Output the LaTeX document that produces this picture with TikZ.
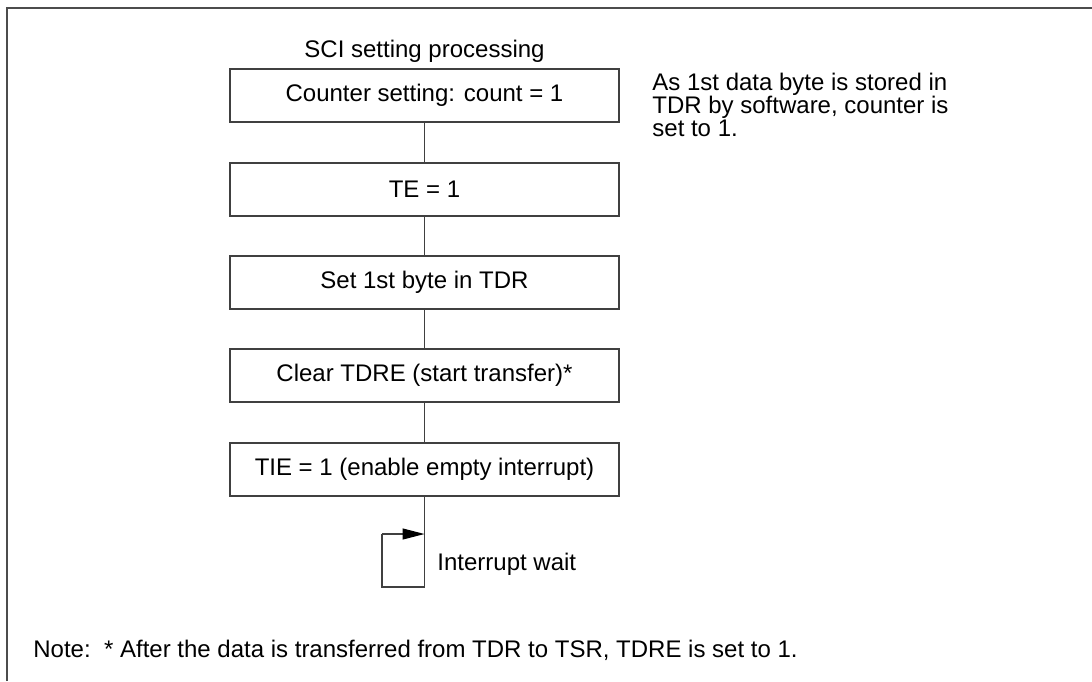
\documentclass[tikz,border=0pt]{standalone}
\usepackage{fontspec}
\setmainfont{Liberation Sans}
\usetikzlibrary{arrows.meta}
\tikzset{
  stepbox/.style={draw=black!75,line width=.6pt,minimum width=194.5pt,minimum height=26.5pt,inner sep=0pt,font=\fontsize{12}{14}\selectfont},
  flowline/.style={draw=black!75,line width=.6pt},
  plaintext/.style={inner sep=0pt,font=\fontsize{12}{11.5}\selectfont}
}
\begin{document}
\begin{tikzpicture}[x=.5pt,y=-.5pt]
\useasboundingbox(0,0)rectangle(1092,681);
%frame
\draw[black!70,line width=.75pt](7,681)--(7,8)--(1092,8);
%title
\node[plaintext,anchor=base](title)at(424.5,57){SCI setting processing};
%boxes
\node[stepbox](count)at(424.5,95.5){Counter setting: count = 1};
\node[stepbox](te)at(424.5,189.5){TE = 1};
\node[stepbox](tdr)at(424.5,282.5){Set 1st byte in TDR};
\node[stepbox](tdre)at(424.5,375.5){Clear TDRE (start transfer)*};
\node[stepbox](tie)at(424.5,469.5){TIE = 1 (enable empty interrupt)};
\draw[flowline](count)--(te);
\draw[flowline](te)--(tdr);
\draw[flowline](tdr)--(tdre);
\draw[flowline](tdre)--(tie);
%interrupt wait loop
\coordinate(wait)at(424.5,587);
\coordinate(loopl)at(382,587);
\coordinate(loopt)at(382,534);
\coordinate(entry)at(424.5,534);
\draw[flowline](tie.south)--(wait)--(loopl)--(loopt);
\draw[flowline,-{Triangle[length=11pt,width=5.5pt,color=black]}](loopt)--(entry);
\node[plaintext,anchor=base west](waittext)at(437,570){Interrupt wait};
%side remark
\node[plaintext,anchor=north west,align=left](remark)at(652,73){As 1st data byte is stored in\\TDR by software, counter is\\set to 1.};
%note
\node[plaintext,anchor=base west](note)at(33,657){Note:\ \ * After the data is transferred from TDR to TSR, TDRE is set to 1.};
\end{tikzpicture}
\end{document}
